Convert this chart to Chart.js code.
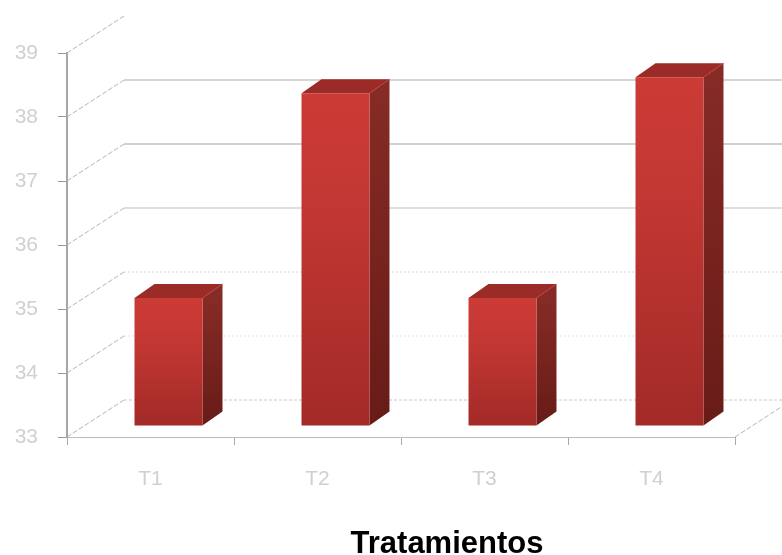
<!DOCTYPE html>
<html>
<head>
<meta charset="utf-8">
<title>Tratamientos</title>
<script src="https://cdn.jsdelivr.net/npm/chart.js@4"></script>
<style>
  html, body { margin: 0; padding: 0; background: #fff; overflow: hidden; }
  canvas { display: block; }
</style>
</head>
<body>
<canvas id="bars" width="782" height="555"></canvas>
<script>
const categories = ["T1", "T2", "T3", "T4"];
const values = [35, 38.2, 35, 38.45];
const yTicks = [33, 34, 35, 36, 37, 38, 39];
const axisTitle = "Tratamientos";

// floor and wall offset, in pixels
const wallDx = 57;
const wallDy = -37;
// how far the boxes sit in front of the wall
const boxDx = 18;
const boxDy = -11;
// extrusion of each box
const depthX = 20;
const depthY = -14;

const gridStyles = {
  33: { color: "#c8c8c8", dash: [3, 2] },
  34: { color: "#e2e2e2", dash: [2, 2] },
  35: { color: "#d8d8d8", dash: [2, 2] },
  36: { color: "#bdbdbd", dash: [] },
  37: { color: "#a3a3a3", dash: [] },
  38: { color: "#ababab", dash: [] },
};

function line(ctx, x1, y1, x2, y2) {
  ctx.beginPath();
  ctx.moveTo(x1, y1);
  ctx.lineTo(x2, y2);
  ctx.stroke();
}

function poly(ctx, pts, fill) {
  ctx.fillStyle = fill;
  ctx.beginPath();
  pts.forEach((p, i) => (i ? ctx.lineTo(p[0], p[1]) : ctx.moveTo(p[0], p[1])));
  ctx.closePath();
  ctx.fill();
}

// back wall grid plus the slanted floor lines
const wallGrid = {
  id: "wallGrid",
  beforeDatasetsDraw(chart) {
    const { ctx, scales: { x, y } } = chart;
    ctx.save();
    ctx.lineWidth = 1;
    yTicks.forEach(v => {
      const py = y.getPixelForValue(v);
      ctx.strokeStyle = "#b4b4b4";
      ctx.setLineDash([5, 2]);
      line(ctx, x.left, py, x.left + wallDx, py + wallDy);
      const style = gridStyles[v];
      if (style) {
        ctx.strokeStyle = style.color;
        ctx.setLineDash(style.dash);
        line(ctx, x.left + wallDx, py + wallDy, chart.width, py + wallDy);
      }
    });
    ctx.strokeStyle = "#b4b4b4";
    ctx.setLineDash([5, 2]);
    const floorY = y.getPixelForValue(yTicks[0]);
    line(ctx, x.right, floorY, x.right + wallDx, floorY + wallDy);
    ctx.restore();
  },
};

// side and top faces are built from each bar element, then the
// library paints the front face over them
const boxes = {
  id: "boxes",
  beforeDatasetsDraw(chart) {
    const { ctx } = chart;
    ctx.save();
    ctx.translate(boxDx, boxDy);
    chart.getDatasetMeta(0).data.forEach(bar => {
      const left = bar.x - bar.width / 2;
      const right = bar.x + bar.width / 2;
      const side = ctx.createLinearGradient(0, bar.y, 0, bar.base);
      side.addColorStop(0, "#862b25");
      side.addColorStop(1, "#681b17");
      poly(ctx, [
        [right, bar.y],
        [right + depthX, bar.y + depthY],
        [right + depthX, bar.base + depthY],
        [right, bar.base],
      ], side);
      poly(ctx, [
        [left, bar.y],
        [left + depthX, bar.y + depthY],
        [right + depthX, bar.y + depthY],
        [right, bar.y],
      ], "#9a2b27");
      ctx.strokeStyle = "#b8433d";
      ctx.lineWidth = 1;
      line(ctx, right, bar.y, right + depthX, bar.y + depthY);
    });
  },
  afterDatasetsDraw(chart) {
    chart.ctx.restore();
  },
};

const axisName = {
  id: "axisName",
  afterDraw(chart) {
    const { ctx } = chart;
    ctx.save();
    ctx.fillStyle = "#000";
    ctx.font = "bold 31px 'Liberation Sans', Arial, sans-serif";
    ctx.textAlign = "center";
    ctx.textBaseline = "alphabetic";
    ctx.fillText(axisTitle, 447, 553);
    ctx.restore();
  },
};

function frontFill(context) {
  const { chart, raw } = context;
  const top = chart.scales.y ? chart.scales.y.getPixelForValue(raw) : NaN;
  const bottom = chart.scales.y ? chart.scales.y.getPixelForValue(yTicks[0]) : NaN;
  // scales have no size yet on the first pass
  if (!chart.chartArea || !isFinite(top) || !isFinite(bottom)) return "#b83330";
  const g = chart.ctx.createLinearGradient(0, top, 0, bottom);
  g.addColorStop(0, "#cc3b36");
  g.addColorStop(0.35, "#c23733");
  g.addColorStop(1, "#a22a27");
  return g;
}

new Chart(document.getElementById("bars"), {
  type: "bar",
  data: {
    labels: categories,
    datasets: [
      {
        data: values,
        base: yTicks[0],
        backgroundColor: frontFill,
        clip: false,
        barPercentage: 0.407,
        categoryPercentage: 1,
      },
    ],
  },
  plugins: [wallGrid, boxes, axisName],
  options: {
    responsive: false,
    animation: false,
    layout: { padding: { top: 53, right: 47, left: 0, bottom: 0 } },
    plugins: { legend: { display: false }, tooltip: { enabled: false } },
    scales: {
      x: {
        afterFit: scale => { scale.height = 118; },
        border: { color: "#bcbcbc", width: 1 },
        grid: { drawOnChartArea: false, tickLength: 8, tickColor: "#a8a8a8", offset: true },
        ticks: {
          color: "#d0d0d0",
          padding: 22,
          maxRotation: 0,
          font: { family: "'Liberation Sans', Arial, sans-serif", size: 21 },
        },
      },
      y: {
        min: yTicks[0],
        max: yTicks[yTicks.length - 1],
        afterFit: scale => { scale.width = 67; },
        afterBuildTicks: scale => { scale.ticks = yTicks.map(value => ({ value })); },
        border: { color: "#a6a6a6", width: 2 },
        grid: { drawOnChartArea: false, tickLength: 9, tickColor: "#9a9a9a" },
        ticks: {
          color: "#d0d0d0",
          padding: 20,
          font: { family: "'Liberation Sans', Arial, sans-serif", size: 21 },
        },
      },
    },
  },
});
</script>
</body>
</html>
